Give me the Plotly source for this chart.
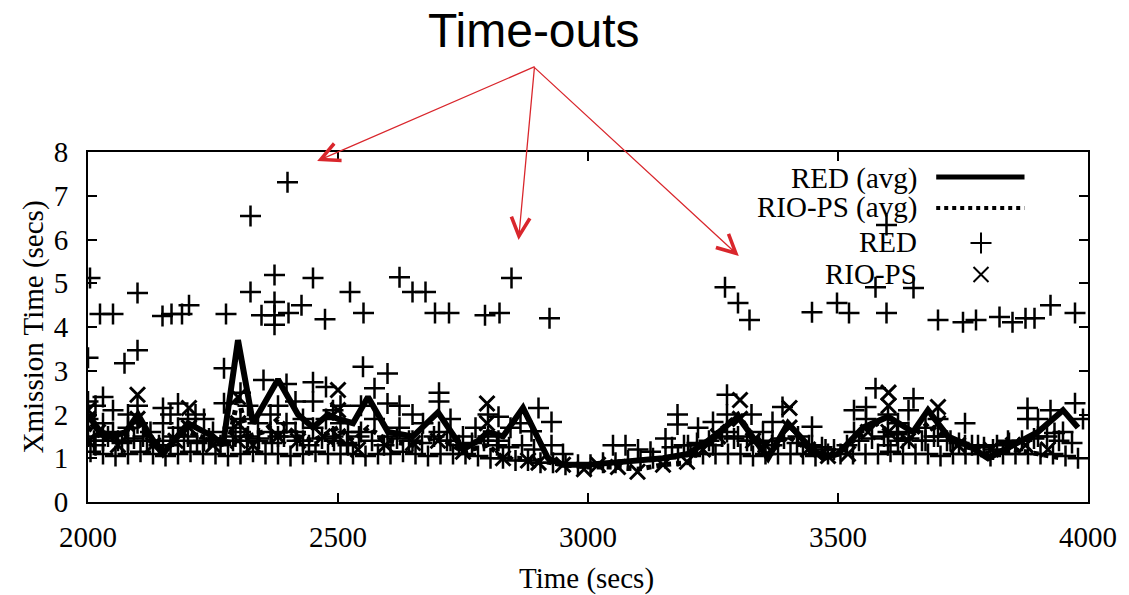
import plotly.graph_objects as go

# ---------------- data ----------------
# RED (avg) line
red_avg_t = [2000, 2025, 2050, 2075, 2100, 2125, 2150, 2200, 2250, 2270, 2300, 2330, 2380, 2420,
             2450, 2480, 2500, 2530, 2560, 2600, 2650, 2700, 2750, 2780, 2800, 2830, 2870, 2920,
             2950, 3000, 3050, 3100, 3150, 3200, 3240, 3300, 3340, 3360, 3400, 3440, 3470, 3500,
             3550, 3600, 3650, 3680, 3720, 3760, 3800, 3850, 3900, 3950, 3980]
red_avg_v = [2.0, 1.6, 1.5, 1.6, 2.0, 1.5, 1.1, 1.8, 1.5, 1.3, 3.7, 1.8, 2.8, 2.0,
             1.7, 2.0, 1.9, 1.8, 2.4, 1.6, 1.5, 2.05, 1.2, 1.4, 1.6, 1.5, 2.15, 1.0,
             0.85, 0.85, 0.9, 0.95, 1.0, 1.1, 1.4, 1.95, 1.3, 1.0, 1.8, 1.3, 1.0, 1.1,
             1.7, 1.95, 1.6, 2.1, 1.5, 1.3, 1.0, 1.3, 1.6, 2.1, 1.7]

# RIO-PS (avg) line
rio_avg_t = [2000, 2025, 2050, 2075, 2100, 2125, 2150, 2175, 2200, 2250, 2280, 2300, 2320, 2350,
             2380, 2420, 2450, 2500, 2530, 2560, 2600, 2650, 2700, 2750, 2800, 2830, 2860, 2900,
             2950, 3000, 3050, 3100, 3150, 3200, 3230, 3260, 3300, 3330, 3360, 3400, 3440, 3480,
             3500, 3540, 3580, 3600, 3640, 3680, 3700, 3740, 3780, 3800, 3850, 3900, 3950]
rio_avg_v = [1.7, 1.5, 1.4, 1.5, 1.8, 1.4, 1.2, 1.4, 1.6, 1.4, 1.3, 2.4, 1.5, 1.6,
             1.9, 1.5, 1.4, 1.7, 1.4, 1.7, 1.4, 1.3, 1.5, 1.15, 1.3, 1.0, 1.0, 0.95,
             0.85, 0.8, 0.8, 0.75, 0.85, 0.9, 1.3, 1.6, 2.0, 1.5, 1.1, 1.5, 1.2, 1.05,
             1.1, 1.5, 1.8, 1.6, 1.4, 1.8, 1.6, 1.3, 1.2, 1.1, 1.2, 1.1, 1.0]

# RED individual samples: baseline row
red_base_t = [2005, 2030, 2055, 2080, 2105, 2130, 2155, 2180, 2205, 2230, 2255, 2280, 2305, 2330,
              2355, 2380, 2405, 2430, 2455, 2480, 2505, 2530, 2555, 2580, 2605, 2630, 2655, 2680,
              2705, 2730, 2755, 2780, 2805, 2830, 2855, 2880, 2905, 2930, 2955, 2980, 3005, 3030,
              3055, 3080, 3105, 3130, 3155, 3180, 3205, 3230, 3255, 3280, 3305, 3330, 3355, 3380,
              3405, 3430, 3455, 3480, 3505, 3530, 3555, 3580, 3605, 3630, 3655, 3680, 3705, 3730,
              3755, 3780, 3805, 3830, 3855, 3880, 3905, 3930, 3955, 3980]
red_base_v = [1.15, 1.1, 1.05, 1.1, 1.15, 1.1, 1.05, 1.1, 1.15, 1.1, 1.1, 1.05, 1.1, 1.15,
              1.1, 1.1, 1.05, 1.1, 1.15, 1.1, 1.1, 1.1, 1.05, 1.1, 1.1, 1.15, 1.1, 1.05,
              1.1, 1.1, 1.1, 1.05, 1.0, 1.0, 0.95, 0.95, 0.9, 0.9, 0.85, 0.85, 0.85, 0.9,
              0.9, 0.95, 0.95, 1.0, 1.0, 1.05, 1.05, 1.1, 1.1, 1.1, 1.1, 1.05, 1.1, 1.1,
              1.1, 1.1, 1.05, 1.1, 1.1, 1.1, 1.1, 1.1, 1.15, 1.1, 1.1, 1.1, 1.05, 1.1,
              1.1, 1.1, 1.05, 1.1, 1.1, 1.1, 1.1, 1.1, 1.05, 1.0]

# RED individual samples: second row just above the baseline
red_row2_t = [2012, 2040, 2068, 2092, 2118, 2142, 2170, 2192, 2218, 2242, 2265, 2295, 2318, 2342,
              2368, 2392, 2418, 2442, 2468, 2492, 2518, 2542, 2568, 2592, 2618, 2642, 2668, 2692,
              2718, 2742, 2768, 2792, 2818, 2842, 2868, 2892, 3168, 3192, 3218, 3242, 3268, 3292,
              3318, 3342, 3368, 3392, 3418, 3442, 3468, 3492, 3518, 3542, 3568, 3592, 3618, 3642,
              3668, 3692, 3718, 3742, 3768, 3792, 3818, 3842, 3868, 3892, 3918, 3942, 3968]
red_row2_v = [1.4, 1.5, 1.35, 1.45, 1.4, 1.3, 1.5, 1.4, 1.35, 1.45, 1.3, 1.5, 1.4, 1.45,
              1.35, 1.5, 1.4, 1.3, 1.45, 1.4, 1.35, 1.5, 1.4, 1.3, 1.45, 1.4, 1.35, 1.5,
              1.4, 1.3, 1.35, 1.4, 1.3, 1.25, 1.3, 1.2, 1.25, 1.3, 1.35, 1.4, 1.5, 1.45,
              1.4, 1.35, 1.3, 1.45, 1.35, 1.3, 1.25, 1.2, 1.3, 1.4, 1.45, 1.5, 1.55, 1.45,
              1.4, 1.5, 1.4, 1.35, 1.3, 1.25, 1.3, 1.35, 1.4, 1.45, 1.5, 1.4, 1.35]

# RED individual samples: middle band
red_mid_t = [2000, 2000, 2000, 2000, 2015, 2015, 2030, 2030, 2030, 2050, 2050, 2060, 2073, 2080,
             2080, 2080, 2099, 2099, 2099, 2110, 2125, 2150, 2150, 2150, 2165, 2165, 2180, 2180,
             2200, 2200, 2215, 2232, 2232, 2250, 2272, 2272, 2290, 2290, 2305, 2305, 2305, 2320,
             2320, 2340, 2340, 2351, 2365, 2365, 2380, 2380, 2397, 2397, 2415, 2415, 2430, 2430,
             2450, 2450, 2450, 2476, 2476, 2490, 2490, 2505, 2505, 2520, 2520, 2546, 2546, 2550,
             2573, 2573, 2599, 2599, 2599, 2623, 2623, 2649, 2649, 2670, 2702, 2702, 2702, 2725,
             2725, 2750, 2775, 2800, 2800, 2821, 2821, 2845, 2865, 2887, 2901, 2927, 2927, 2950,
             3050, 3075, 3100, 3125, 3155, 3179, 3179, 3200, 3220, 3250, 3250, 3278, 3278, 3278,
             3300, 3327, 3327, 3350, 3369, 3369, 3389, 3420, 3448, 3448, 3475, 3532, 3532, 3556,
             3556, 3575, 3600, 3600, 3600, 3620, 3620, 3641, 3641, 3651, 3675, 3675, 3700, 3700,
             3725, 3754, 3754, 3780, 3810, 3840, 3879, 3879, 3900, 3900, 3925, 3933, 3950, 3974,
             3990]
red_mid_v = [2.3, 1.9, 1.5, 3.3, 2.2, 1.3, 2.4, 1.8, 1.4, 2.1, 1.6, 1.4, 3.17, 2.0,
             1.7, 1.4, 3.47, 2.2, 1.8, 1.5, 1.6, 2.15, 1.8, 1.4, 2.0, 1.3, 1.7, 2.25,
             1.9, 1.5, 2.0, 1.9, 1.4, 1.6, 2.26, 3.06, 1.7, 1.4, 2.5, 1.9, 1.6, 2.2,
             1.5, 1.8, 1.4, 2.79, 2.0, 1.6, 2.2, 1.5, 2.7, 1.8, 2.3, 1.6, 1.9, 1.4,
             2.74, 2.3, 1.7, 2.63, 1.9, 2.1, 1.5, 2.2, 1.8, 1.6, 1.3, 2.2, 1.6, 3.09,
             2.6, 1.9, 2.94, 2.25, 1.5, 2.2, 1.7, 2.0, 1.4, 1.8, 2.5, 2.3, 1.6, 1.9,
             1.4, 1.5, 1.7, 2.0, 1.5, 1.95, 1.4, 1.7, 1.8, 1.62, 2.15, 1.83, 1.3, 1.1,
             1.3, 1.3, 1.2, 1.15, 1.45, 2.0, 1.77, 1.3, 1.7, 1.83, 1.3, 2.45, 2.0, 1.6,
             1.5, 2.0, 1.4, 1.6, 1.83, 1.4, 2.17, 1.5, 1.72, 1.3, 1.2, 2.1, 1.6, 2.17,
             1.9, 2.6, 2.0, 1.6, 1.3, 1.8, 1.4, 2.1, 1.6, 2.37, 1.7, 1.4, 1.9, 1.5,
             1.4, 1.8, 1.3, 1.3, 1.2, 1.4, 2.15, 1.9, 1.9, 1.5, 2.1, 1.58, 1.6, 2.26,
             1.9]

# RED individual samples: time-outs
red_to_t = [2004, 2024, 2050, 2099, 2149, 2167, 2188, 2202, 2276, 2325, 2325, 2373, 2373, 2373,
            2373, 2347, 2401, 2427, 2399, 2450, 2474, 2524, 2551, 2623, 2649, 2675, 2694, 2722,
            2794, 2823, 2847, 2923, 3274, 3300, 3323, 3448, 3498, 3522, 3575, 3597, 3597, 3651,
            3700, 3750, 3776, 3823, 3849, 3875, 3893, 3925, 3974]
red_to_v = [5.12, 4.3, 4.3, 4.78, 4.25, 4.3, 4.3, 4.5, 4.3, 6.54, 4.8, 5.19, 4.57, 4.27,
            4.05, 4.27, 4.32, 4.5, 7.31, 5.12, 4.18, 4.8, 4.32, 5.14, 4.8, 4.8, 4.32, 4.32,
            4.27, 4.32, 5.12, 4.2, 4.91, 4.55, 4.16, 4.34, 4.55, 4.32, 4.91, 4.32, 6.33, 4.89,
            4.16, 4.11, 4.16, 4.23, 4.11, 4.2, 4.2, 4.5, 4.32]

# RIO-PS individual samples
rio_t = [2000, 2000, 2000, 2020, 2060, 2099, 2099, 2130, 2175, 2202, 2202, 2250, 2300, 2300,
         2300, 2330, 2380, 2420, 2470, 2500, 2500, 2500, 2540, 2595, 2650, 2700, 2750, 2798,
         2798, 2830, 2880, 2901, 2950, 2992, 3020, 3060, 3099, 3150, 3198, 3230, 3260, 3304,
         3304, 3330, 3355, 3403, 3403, 3440, 3480, 3520, 3560, 3601, 3601, 3601, 3640, 3700,
         3700, 3740, 3806, 3850, 3875, 3920]
rio_v = [2.1, 1.4, 1.9, 1.6, 1.3, 2.45, 1.9, 1.3, 1.4, 2.15, 1.7, 1.3, 1.4, 1.8,
         2.4, 1.3, 1.5, 1.4, 1.5, 2.56, 2.1, 1.5, 1.2, 1.3, 1.35, 1.4, 1.15, 2.25,
         1.8, 1.0, 0.95, 0.9, 0.85, 0.75, 0.85, 0.8, 0.69, 0.85, 0.92, 1.2, 1.5, 2.33,
         1.9, 1.4, 1.3, 2.15, 1.7, 1.2, 1.05, 1.1, 1.6, 2.5, 2.2, 1.6, 1.4, 2.17,
         1.8, 1.3, 1.2, 1.3, 1.3, 1.2]

x_ticks = [2000, 2500, 3000, 3500, 4000]
y_ticks = [0, 1, 2, 3, 4, 5, 6, 7, 8]
legend_labels = ["RED (avg)", "RIO-PS (avg)", "RED", "RIO-PS"]

# ---------------- figure ----------------
SERIF = "Liberation Serif"
FS = 29
red_t = red_base_t + red_row2_t + red_mid_t + red_to_t
red_v = red_base_v + red_row2_v + red_mid_v + red_to_v

plus_marker = dict(symbol="cross-thin-open", size=15, color="black", line=dict(width=2.5, color="black"))
x_marker = dict(symbol="x-thin-open", size=15, color="black", line=dict(width=3, color="black"))

fig = go.Figure()
fig.add_trace(go.Scatter(x=red_t, y=red_v, mode="markers", name="RED", marker=plus_marker))
fig.add_trace(go.Scatter(x=rio_t, y=rio_v, mode="markers", name="RIO-PS", marker=x_marker))
fig.add_trace(go.Scatter(x=rio_avg_t, y=rio_avg_v, mode="lines", name="RIO-PS (avg)",
                         line=dict(color="black", width=5, dash="dot")))
fig.add_trace(go.Scatter(x=red_avg_t, y=red_avg_v, mode="lines", name="RED (avg)",
                         line=dict(color="black", width=6)))

# legend key markers drawn on a hidden overlay axis (0..1 both ways)
fig.add_trace(go.Scatter(x=[0.893], y=[0.74], mode="markers", xaxis="x2", yaxis="y2", hoverinfo="skip",
                         marker=dict(symbol="cross-thin-open", size=15, color="black",
                                     line=dict(width=2, color="black"))))
fig.add_trace(go.Scatter(x=[0.893], y=[0.65], mode="markers", xaxis="x2", yaxis="y2", hoverinfo="skip",
                         marker=dict(symbol="x-thin-open", size=15, color="black",
                                     line=dict(width=2, color="black"))))

axis_common = dict(showgrid=False, zeroline=False, showline=True, linecolor="black", linewidth=2,
                   mirror="allticks", ticks="inside", ticklen=9, tickwidth=1.5, tickcolor="black",
                   tickfont=dict(family=SERIF, size=FS, color="black"))

fig.update_layout(
    width=1129, height=595,
    margin=dict(l=88, r=33, t=152, b=93),
    paper_bgcolor="white", plot_bgcolor="white",
    showlegend=False,
    xaxis=dict(range=[2000, 4000], tickvals=x_ticks, ticklabelstandoff=8, **axis_common),
    yaxis=dict(range=[0, 8], tickvals=y_ticks, ticklabelstandoff=12, **axis_common),
    xaxis2=dict(range=[0, 1], overlaying="x", visible=False),
    yaxis2=dict(range=[0, 1], overlaying="y", visible=False),
)

def px_x(p):
    return (p - 88) / 1008.0

def px_y(p):
    return (502 - p) / 350.0

ann = []
# axis titles
ann.append(dict(text="Time (secs)", x=px_x(590), y=px_y(578), xref="paper", yref="paper",
                showarrow=False, font=dict(family=SERIF, size=FS, color="black"),
                xanchor="center", yanchor="middle"))
ann.append(dict(text="Xmission Time (secs)", x=px_x(33), y=px_y(327), xref="paper", yref="paper",
                showarrow=False, textangle=-90, font=dict(family=SERIF, size=FS, color="black"),
                xanchor="center", yanchor="middle"))
# legend texts
for lab, py in zip(legend_labels, [178, 207, 242, 274]):
    ann.append(dict(text=lab, x=px_x(926), y=px_y(py), xref="paper", yref="paper", showarrow=False,
                    font=dict(family=SERIF, size=FS, color="black"), xanchor="right", yanchor="middle"))
# Time-outs label
ann.append(dict(text="Time-outs", x=px_x(538), y=px_y(30), xref="paper", yref="paper", showarrow=False,
                font=dict(family="Liberation Sans", size=48, color="black"),
                xanchor="center", yanchor="middle"))
# arrows
for hx, hy in [(319, 161), (522, 240), (744, 256)]:
    ann.append(dict(text="", x=px_x(hx), y=px_y(hy), xref="paper", yref="paper",
                    ax=538 - hx, ay=66 - hy, axref="pixel", ayref="pixel",
                    showarrow=True, arrowhead=5, arrowsize=2.8, arrowwidth=1.3,
                    arrowcolor="#d9262c", standoff=0, startstandoff=0))
fig.update_layout(annotations=ann)

# legend key lines
fig.add_shape(type="line", xref="paper", yref="paper", x0=px_x(943), x1=px_x(1032),
              y0=px_y(177), y1=px_y(177), line=dict(color="black", width=5))
fig.add_shape(type="line", xref="paper", yref="paper", x0=px_x(943), x1=px_x(1032),
              y0=px_y(208), y1=px_y(208), line=dict(color="black", width=4, dash="dot"))

fig.write_html("out.html")
